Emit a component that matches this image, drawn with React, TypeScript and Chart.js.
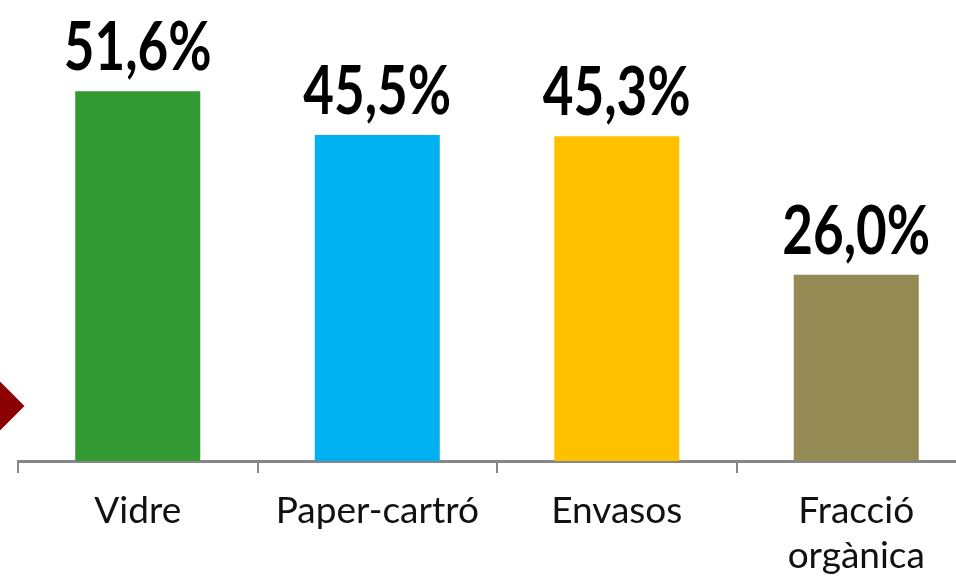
import React, { useEffect, useRef } from "react";
import { Chart, registerables } from "chart.js";

Chart.register(...registerables);

const categories: (string | string[])[] = ["Vidre", "Paper-cartró", "Envasos", ["Fracció", "orgànica"]];
const values: number[] = [51.6, 45.5, 45.3, 26.0];
const valueLabels: string[] = ["51,6%", "45,5%", "45,3%", "26,0%"];
const barColors: string[] = ["#339933", "#00B0F0", "#FFC000", "#948A54"];

const labelPlugin = {
  id: "valueLabels",
  afterDatasetsDraw(chart: any) {
    const { ctx } = chart;
    const meta = chart.getDatasetMeta(0);
    ctx.save();
    ctx.fillStyle = "#000000";
    ctx.font = "bold 67px Lato";
    ctx.textAlign = "center";
    ctx.textBaseline = "alphabetic";
    meta.data.forEach((bar: any, i: number) => {
      ctx.save();
      ctx.translate(bar.x, bar.y - 21);
      ctx.scale(0.79, 1);
      ctx.fillText(valueLabels[i], 0, 0);
      ctx.restore();
    });
    ctx.restore();
  },
};

export default function App() {
  const ref = useRef<HTMLCanvasElement | null>(null);
  useEffect(() => {
    if (!ref.current) return;
    const chart = new Chart(ref.current, {
      type: "bar",
      data: {
        labels: categories,
        datasets: [
          {
            data: values,
            backgroundColor: barColors,
            borderWidth: 0,
            barPercentage: 0.522,
            categoryPercentage: 1,
          },
        ],
      },
      options: {
        responsive: false,
        animation: false,
        devicePixelRatio: 1,
        layout: { padding: { top: 31, left: 18, right: 4, bottom: 0 } },
        plugins: { legend: { display: false }, tooltip: { enabled: false } },
        scales: {
          y: { display: false, min: 0, max: 60 },
          x: {
            afterFit: (scale: any) => {
              scale.height = 122;
            },
            border: { display: true, color: "#868686", width: 3 },
            grid: {
              offset: true,
              drawOnChartArea: false,
              drawTicks: true,
              tickLength: 12,
              color: "#868686",
              lineWidth: 2,
            },
            ticks: {
              color: "#111111",
              padding: 16,
              font: { family: "Lato", size: 37, lineHeight: 1.2 },
              maxRotation: 0,
              autoSkip: false,
            },
          },
        },
      },
      plugins: [labelPlugin],
    });
    return () => chart.destroy();
  }, []);
  return (
    <div
      style={{
        position: "fixed",
        left: 0,
        top: 0,
        width: 956,
        height: 583,
        overflow: "hidden",
        background: "#ffffff",
      }}
    >
      <canvas ref={ref} width={980} height={583} style={{ display: "block" }} />
      <div
        style={{
          position: "absolute",
          left: -19,
          top: 388,
          width: 36,
          height: 36,
          background: "#8B0000",
          transform: "rotate(45deg)",
        }}
      />
    </div>
  );
}
